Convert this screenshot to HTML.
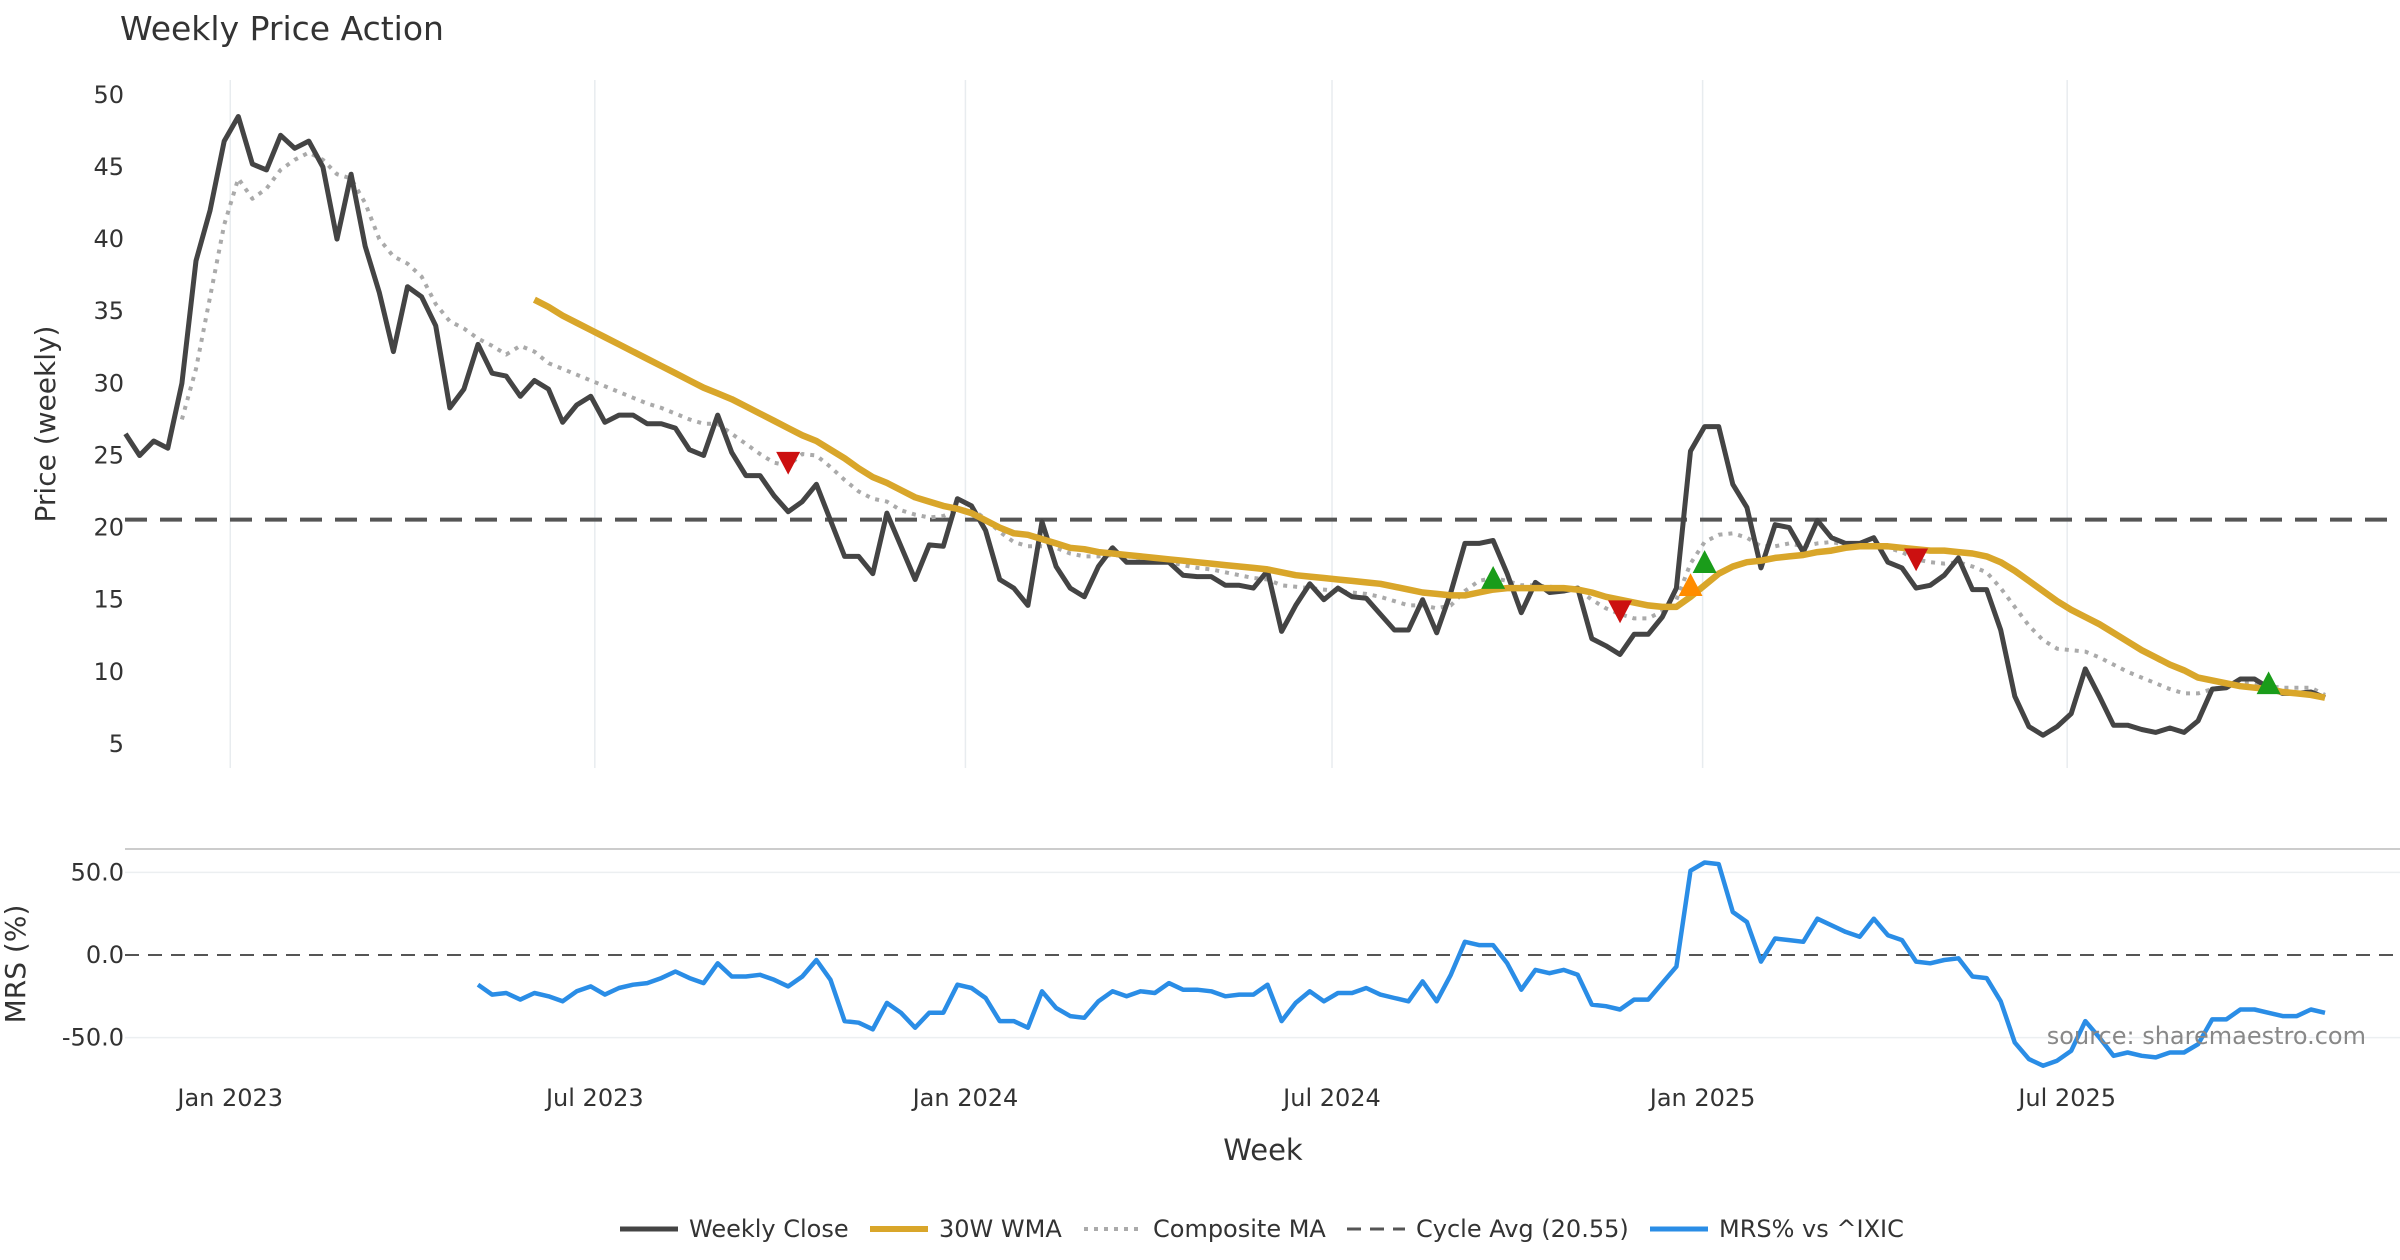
<!DOCTYPE html>
<html><head><meta charset="utf-8"><style>
html,body{margin:0;padding:0;background:#fff;}
svg{display:block;font-family:"DejaVu Sans","Liberation Sans",sans-serif;}
</style></head><body>
<svg id="chart" width="2400" height="1260" viewBox="0 0 2400 1260" xmlns="http://www.w3.org/2000/svg">
<text x="120" y="40" font-size="33" fill="#333">Weekly Price Action</text>
<g id="grid"></g>
<g id="price"></g>
<g id="mrs"></g>
<text transform="translate(55,424) rotate(-90)" text-anchor="middle" font-size="28" fill="#333">Price (weekly)</text>
<text transform="translate(25,964) rotate(-90)" text-anchor="middle" font-size="28" fill="#333">MRS (%)</text>
<text x="1263" y="1160" text-anchor="middle" font-size="29" fill="#333">Week</text>
<text x="2366" y="1044" text-anchor="end" font-size="24" fill="#888">source: sharemaestro.com</text>
<g id="legend"></g>
</svg>
<script>
const closeVals=[26.5,25,26,25.5,30,38.5,42,46.8,48.5,45.2,44.8,47.2,46.3,46.8,45,40,44.5,39.5,36.3,32.2,36.7,36,34,28.3,29.6,32.7,30.7,30.5,29.1,30.2,29.6,27.3,28.5,29.1,27.3,27.8,27.8,27.2,27.2,26.9,25.4,25.0,27.8,25.2,23.6,23.6,22.2,21.1,21.8,23.0,20.5,18,18,16.8,21,18.7,16.4,18.8,18.7,22,21.5,19.8,16.4,15.8,14.6,20.4,17.3,15.8,15.2,17.3,18.6,17.6,17.6,17.6,17.6,16.7,16.6,16.6,16.0,16.0,15.8,17.0,12.8,14.6,16.1,15.0,15.8,15.2,15.1,14.0,12.9,12.9,15.0,12.7,15.5,18.9,18.9,19.1,16.8,14.1,16.2,15.5,15.6,15.8,12.3,11.8,11.2,12.6,12.6,13.8,15.8,25.3,27,27,23,21.4,17.2,20.2,20,18.3,20.5,19.3,18.9,18.9,19.3,17.6,17.2,15.8,16.0,16.7,17.9,15.7,15.7,12.9,8.3,6.2,5.6,6.2,7.1,10.2,8.3,6.3,6.3,6.0,5.8,6.1,5.8,6.6,8.8,8.9,9.5,9.5,8.9,8.5,8.5,8.6,8.2];
const wmaStart=29;
const wmaVals=[35.8,35.3,34.7,34.2,33.7,33.2,32.7,32.2,31.7,31.2,30.7,30.2,29.7,29.3,28.9,28.4,27.9,27.4,26.9,26.4,26.0,25.4,24.8,24.1,23.5,23.1,22.6,22.1,21.8,21.5,21.3,21.0,20.5,20.0,19.6,19.5,19.2,18.9,18.6,18.5,18.3,18.2,18.1,18.0,17.9,17.8,17.7,17.6,17.5,17.4,17.3,17.2,17.1,16.9,16.7,16.6,16.5,16.4,16.3,16.2,16.1,15.9,15.7,15.5,15.4,15.3,15.3,15.5,15.7,15.8,15.8,15.8,15.8,15.8,15.7,15.5,15.2,15.0,14.8,14.6,14.5,14.5,15.2,16.0,16.8,17.3,17.6,17.7,17.9,18.0,18.1,18.3,18.4,18.6,18.7,18.7,18.7,18.6,18.5,18.4,18.4,18.3,18.2,18.0,17.6,17.0,16.3,15.6,14.9,14.3,13.8,13.3,12.7,12.1,11.5,11.0,10.5,10.1,9.6,9.4,9.2,9.0,8.9,8.8,8.6,8.5,8.4,8.2];
const compStart=4;
const compVals=[27.5,31,36,41,44.2,42.8,43.5,44.8,45.5,46,45.5,44.5,44.2,42.5,40,38.8,38.3,37.4,35.5,34.3,33.8,33.1,32.6,32.0,32.6,32.2,31.4,31.0,30.6,30.2,29.8,29.4,29.0,28.6,28.3,27.9,27.5,27.2,27.2,26.5,25.8,25.1,24.5,24.3,25.1,25.0,24.2,23.3,22.5,22.0,21.8,21.2,20.9,20.7,20.8,21.2,21.3,20.6,19.7,19.0,18.7,18.7,18.6,18.2,18.0,18.0,18.1,18.0,17.9,17.8,17.6,17.4,17.2,17.1,16.9,16.7,16.5,16.4,16.0,15.9,15.8,15.7,15.6,15.5,15.4,15.2,14.9,14.6,14.6,14.4,14.6,15.6,16.3,16.5,16.3,16.0,16.0,15.9,15.8,15.7,15.0,14.4,14.0,13.7,13.7,14.2,15.0,17.5,19.0,19.5,19.6,19.3,18.7,18.7,18.9,18.7,18.9,19.0,18.8,18.8,18.8,18.6,18.3,17.8,17.6,17.5,17.6,17.3,16.9,15.8,14.5,13.2,12.2,11.6,11.5,11.4,11.0,10.5,10.0,9.6,9.2,8.8,8.5,8.5,8.8,9.0,9.2,9.2,9.0,8.9,8.9,8.9,8.4];
const mrsStart=25;
const mrsVals=[-18,-24,-23,-27,-23,-25,-28,-22,-19,-24,-20,-18,-17,-14,-10,-14,-17,-5,-13,-13,-12,-15,-19,-13,-3,-15,-40,-41,-45,-29,-35,-44,-35,-35,-18,-20,-26,-40,-40,-44,-22,-32,-37,-38,-28,-22,-25,-22,-23,-17,-21,-21,-22,-25,-24,-24,-18,-40,-29,-22,-28,-23,-23,-20,-24,-26,-28,-16,-28,-12,8,6,6,-5,-21,-9,-11,-9,-12,-30,-31,-33,-27,-27,-17,-7,51,56,55,26,20,-4,10,9,8,22,18,14,11,22,12,9,-4,-5,-3,-2,-13,-14,-28,-53,-63,-67,-64,-58,-40,-50,-61,-59,-61,-62,-59,-59,-54,-39,-39,-33,-33,-35,-37,-37,-33,-35];
const cycleAvg=20.55;
const sellIdx=[47,106,127]; const sellVals=[24.5,14.2,17.8];
const buyIdx=[97,112,152]; const buyVals=[16.5,17.6,9.2];
const warnIdx=[111]; const warnVals=[16.0];
const priceTicks=[5,10,15,20,25,30,35,40,45,50];
const mrsTicks=[-50,0,50];
const dateTicks=["2023-01-01","2023-07-01","2024-01-01","2024-07-01","2025-01-01","2025-07-01"];
const dateLabels=["Jan 2023","Jul 2023","Jan 2024","Jul 2024","Jan 2025","Jul 2025"];

const NS="http://www.w3.org/2000/svg";
const X0=125.5, STEP=(2325-125.5)/156;
const startMs=Date.parse("2022-11-10");
const xIdx=i=>X0+i*STEP;
const xDate=d=>X0+(Date.parse(d)-startMs)/(7*864e5)*STEP;
const yP=v=>94.9+(50-v)*(743.9-94.9)/45;
const yM=v=>955-v*(955-872.4)/50;
function mk(tag,attrs,parent){const e=document.createElementNS(NS,tag);for(const k in attrs)e.setAttribute(k,attrs[k]);parent.appendChild(e);return e;}
const grid=document.getElementById('grid'),price=document.getElementById('price'),mrs=document.getElementById('mrs'),legend=document.getElementById('legend');

dateTicks.forEach((d,k)=>{
  const x=xDate(d);
  const gl=mk('line',{x1:x,x2:x,y1:80,y2:768,stroke:'#e8ecef','stroke-width':1.5},grid);
  
  
  const t=mk('text',{x:x,y:1106,'text-anchor':'middle','font-size':24,fill:'#333'},grid);
  t.textContent=dateLabels[k];
  
  
});
priceTicks.forEach(v=>{
  const t=mk('text',{x:124,y:yP(v)+8,'text-anchor':'end','font-size':24,fill:'#333'},grid);
  t.textContent=v;
  
  
});
mrsTicks.forEach(v=>{
  if(v!==0){const gl=mk('line',{x1:125,x2:2400,y1:yM(v),y2:yM(v),stroke:'#eceff1','stroke-width':1.5},grid);
  
  }
  const t=mk('text',{x:124,y:yM(v)+8,'text-anchor':'end','font-size':24,fill:'#333'},grid);
  t.textContent=v.toFixed(1);
  
  
});
const sep=mk('line',{x1:125,x2:2400,y1:849,y2:849,stroke:'#ccc','stroke-width':2},grid);



function poly(vals,start,yf,attrs,parent){
  const pts=vals.map((v,i)=>xIdx(start+i).toFixed(1)+','+yf(v).toFixed(1)).join(' ');
  return mk('polyline',Object.assign({points:pts,fill:'none','stroke-linejoin':'round'},attrs),parent);
}
const cyc=mk('line',{x1:125,x2:2400,y1:yP(cycleAvg),y2:yP(cycleAvg),stroke:'#555','stroke-width':4,'stroke-dasharray':'22,13'},price);


const comp=poly(compVals,compStart,yP,{stroke:'#aaa','stroke-width':4,'stroke-dasharray':'4,6'},price);


const cl=poly(closeVals,0,yP,{stroke:'#444','stroke-width':5},price);


const wma=poly(wmaVals,wmaStart,yP,{stroke:'#d9a62a','stroke-width':6.5},price);



function tri(x,y,up,color){
  const s=12;
  const pts=up?`${x},${y-s} ${x-s},${y+s*0.9} ${x+s},${y+s*0.9}`:`${x},${y+s} ${x-s},${y-s*0.9} ${x+s},${y-s*0.9}`;
  return mk('polygon',{points:pts,fill:color},price);
}
sellIdx.forEach((i,k)=>{const m=tri(xIdx(i),yP(sellVals[k]),false,'#cc1010');
  
  });
buyIdx.forEach((i,k)=>{const m=tri(xIdx(i),yP(buyVals[k]),true,'#1a9c1a');
  
  });
warnIdx.forEach((i,k)=>{const m=tri(xIdx(i),yP(warnVals[k]),true,'#ff8c00');
  
  });

const z=mk('line',{x1:125,x2:2400,y1:yM(0),y2:yM(0),stroke:'#555','stroke-width':2,'stroke-dasharray':'14,9'},mrs);


const ml=poly(mrsVals,mrsStart,yM,{stroke:'#2a8de6','stroke-width':4.5},mrs);



const legItems=[["Weekly Close",620,'#444',null,5],["30W WMA",870,'#d9a62a',null,6],["Composite MA",1084,'#aaa','4,6',4],["Cycle Avg (20.55)",1347,'#555','14,9',3],["MRS% vs ^IXIC",1650,'#2a8de6',null,5]];
legItems.forEach(it=>{
  const g=mk('g',{},legend);
  
  
  const l=mk('line',{x1:it[1],x2:it[1]+58,y1:1229,y2:1229,stroke:it[2],'stroke-width':it[4]},g);
  if(it[3])l.setAttribute('stroke-dasharray',it[3]);
  const t=mk('text',{x:it[1]+69,y:1237,'font-size':24,fill:'#333'},g);
  t.textContent=it[0];
});
</script>
</body></html>
